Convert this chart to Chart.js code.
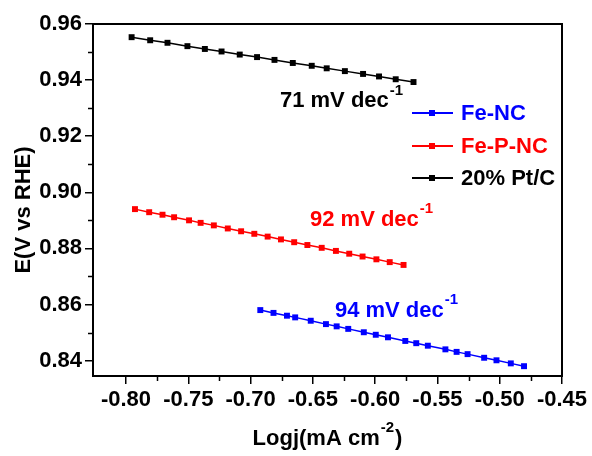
<!DOCTYPE html>
<html lang="en">
<head>
<meta charset="UTF-8">
<title>Tafel plot</title>
<script src="https://cdn.jsdelivr.net/npm/chart.js"></script>
<style>
  body { margin: 0; background: #fff; }
</style>
</head>
<body>
<canvas id="tafel" width="592" height="456"></canvas>
<script>
const seriesNames = ['Fe-NC', 'Fe-P-NC', '20% Pt/C'];
const seriesColors = ['#0000ff', '#ff0000', '#000000'];
const slopeTexts = ['94 mV dec', '92 mV dec', '71 mV dec'];

const feNcX = [-0.6922, -0.6816, -0.6708, -0.6642, -0.6517, -0.6395, -0.6309, -0.6216, -0.6091, -0.5995, -0.5897,
               -0.5758, -0.5670, -0.5577, -0.5436, -0.5346, -0.5258, -0.5125, -0.5026, -0.4911, -0.4805];
const feNcY = [0.8580, 0.8570, 0.8560, 0.8554, 0.8542, 0.8530, 0.8522, 0.8513, 0.8501, 0.8492, 0.8483,
               0.8470, 0.8462, 0.8453, 0.8440, 0.8431, 0.8423, 0.8410, 0.8401, 0.8390, 0.8380];

const fePNcX = [-0.7928, -0.7814, -0.7707, -0.7614, -0.7494, -0.7401, -0.7295, -0.7183, -0.7076, -0.6970, -0.6863,
                -0.6756, -0.6650, -0.6544, -0.6429, -0.6315, -0.6208, -0.6101, -0.5990, -0.5883, -0.5772];
const fePNcY = [0.8940, 0.8929, 0.8920, 0.8911, 0.8900, 0.8891, 0.8882, 0.8871, 0.8861, 0.8852, 0.8842,
                0.8832, 0.8822, 0.8812, 0.8802, 0.8791, 0.8781, 0.8771, 0.8761, 0.8751, 0.8741];

const ptcX = [-0.7955, -0.7806, -0.7667, -0.7507, -0.7367, -0.7233, -0.7087, -0.6948, -0.6808, -0.6661, -0.6509,
              -0.6389, -0.6243, -0.6097, -0.5969, -0.5835, -0.5692];
const ptcY = [0.9553, 0.9542, 0.9533, 0.9521, 0.9511, 0.9502, 0.9491, 0.9482, 0.9472, 0.9461, 0.9451,
              0.9442, 0.9432, 0.9422, 0.9413, 0.9403, 0.9393];

const FONT = '"Liberation Sans", Arial, sans-serif';

function pts(xs, ys) {
    return xs.map((x, i) => ({ x: x, y: ys[i] }));
}

// text with a raised superscript, e.g. dec^-1
function supText(ctx, parts, x, y, color, align) {
    ctx.fillStyle = color;
    ctx.textBaseline = 'middle';
    ctx.textAlign = 'left';
    let total = 0;
    parts.forEach(p => {
        ctx.font = 'bold ' + (p.sup ? 15 : 22) + 'px ' + FONT;
        total += ctx.measureText(p.t).width + (p.sup ? 2 : 0);
    });
    let cx = align === 'center' ? x - total / 2 : x;
    parts.forEach(p => {
        ctx.font = 'bold ' + (p.sup ? 15 : 22) + 'px ' + FONT;
        ctx.fillText(p.t, cx + (p.sup ? 1 : 0), p.sup ? y - 11 : y);
        cx += ctx.measureText(p.t).width + (p.sup ? 2 : 0);
    });
}

const decorations = {
    id: 'decorations',
    afterDraw(chart) {
        const ctx = chart.ctx;
        const a = chart.chartArea;
        const xs = chart.scales.x;
        const ys = chart.scales.y;
        ctx.save();

        // plot frame
        ctx.strokeStyle = '#000000';
        ctx.lineWidth = 2;
        ctx.strokeRect(a.left, a.top, a.right - a.left, a.bottom - a.top);

        // minor ticks, shorter than the major ones
        ctx.lineWidth = 1.5;
        ctx.beginPath();
        for (let v = -0.775; v < -0.46; v += 0.05) {
            const px = Math.round(xs.getPixelForValue(v)) + 0.5;
            ctx.moveTo(px, a.bottom);
            ctx.lineTo(px, a.bottom + 5);
        }
        for (let v = 0.85; v < 0.96; v += 0.02) {
            const py = Math.round(ys.getPixelForValue(v)) + 0.5;
            ctx.moveTo(a.left, py);
            ctx.lineTo(a.left - 5, py);
        }
        ctx.stroke();

        // slope labels
        const anchors = [[-0.6323, 0.8578], [-0.6523, 0.8903], [-0.6764, 0.9324]];
        anchors.forEach((p, i) => {
            supText(ctx, [{ t: slopeTexts[i] }, { t: '-1', sup: true }],
                xs.getPixelForValue(p[0]), ys.getPixelForValue(p[1]), seriesColors[i], 'left');
        });

        // legend inside the plot
        const ly = [113, 146, 178];
        chart.data.datasets.forEach((ds, i) => {
            ctx.strokeStyle = ds.borderColor;
            ctx.lineWidth = 2;
            ctx.beginPath();
            ctx.moveTo(412, ly[i]);
            ctx.lineTo(453, ly[i]);
            ctx.stroke();
            ctx.fillStyle = ds.borderColor;
            ctx.fillRect(429, ly[i] - 3, 6, 6);
            ctx.font = 'bold 22px ' + FONT;
            ctx.textAlign = 'left';
            ctx.textBaseline = 'middle';
            ctx.fillText(ds.label, 461, ly[i] + 1);
        });

        // axis titles
        supText(ctx, [{ t: 'Logj(mA cm' }, { t: '-2', sup: true }, { t: ')' }], (a.left + a.right) / 2, 439, '#000', 'center');
        ctx.translate(24, 210);
        ctx.rotate(-Math.PI / 2);
        ctx.font = 'bold 22px ' + FONT;
        ctx.fillStyle = '#000';
        ctx.textAlign = 'center';
        ctx.textBaseline = 'middle';
        ctx.fillText('E(V vs RHE)', 0, 0);

        ctx.restore();
    }
};

const datasets = [
    { label: seriesNames[0], data: pts(feNcX, feNcY) },
    { label: seriesNames[1], data: pts(fePNcX, fePNcY) },
    { label: seriesNames[2], data: pts(ptcX, ptcY) }
].map((d, i) => Object.assign(d, {
    borderColor: seriesColors[i],
    backgroundColor: seriesColors[i],
    borderWidth: 1.5,
    pointStyle: 'rect',
    pointRadius: 4.2,
    pointBorderWidth: 0,
    tension: 0
}));

const edgeAxis = (pos, min, max, fit) => ({
    type: 'linear',
    position: pos,
    min: min,
    max: max,
    afterFit: fit,
    border: { display: true, color: '#000', width: 2 },
    grid: { display: false, drawTicks: false },
    ticks: { display: false }
});

new Chart(document.getElementById('tafel').getContext('2d'), {
    type: 'line',
    data: { datasets: datasets },
    plugins: [decorations],
    options: {
        responsive: false,
        animation: false,
        layout: { padding: { top: 24, right: 30, left: 0, bottom: 0 } },
        plugins: { legend: { display: false }, tooltip: { enabled: false } },
        scales: {
            x: {
                type: 'linear',
                min: -0.8265,
                max: -0.45,
                afterFit: s => { s.height = 80; },
                border: { display: true, color: '#000', width: 2 },
                grid: { drawOnChartArea: false, tickLength: 8, color: '#000', lineWidth: 1.5 },
                ticks: {
                    stepSize: 0.05,
                    includeBounds: false,
                    color: '#000',
                    padding: 3,
                    maxRotation: 0,
                    font: { family: FONT, size: 22, weight: 'bold' },
                    callback: v => v.toFixed(2)
                }
            },
            y: {
                min: 0.8345,
                max: 0.96,
                afterFit: s => { s.width = 93; },
                border: { display: true, color: '#000', width: 2 },
                grid: { drawOnChartArea: false, tickLength: 8, color: '#000', lineWidth: 1.5 },
                ticks: {
                    stepSize: 0.02,
                    includeBounds: false,
                    color: '#000',
                    padding: 3,
                    font: { family: FONT, size: 22, weight: 'bold' },
                    callback: v => v.toFixed(2)
                }
            },
            xTop: edgeAxis('top', -0.8265, -0.45, s => { s.height = 0; }),
            yRight: edgeAxis('right', 0.8345, 0.96, s => { s.width = 0; })
        }
    }
});
</script>
</body>
</html>
